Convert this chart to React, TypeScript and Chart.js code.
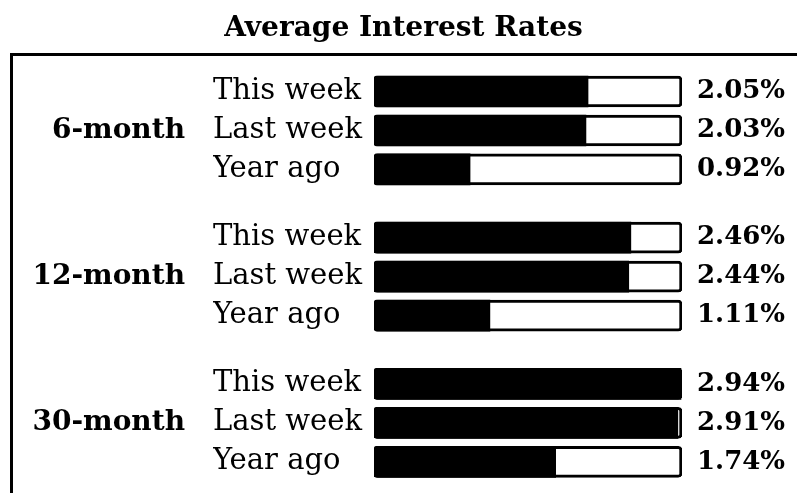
import React, { useEffect, useRef } from "react";
import { Chart, registerables } from "chart.js";

Chart.register(...registerables);

const TITLE = "Average Interest Rates";
const GROUPS = ["6-month", "12-month", "30-month"];
const PERIODS = ["This week", "Last week", "Year ago"];
const RATES_6M = [2.05, 2.03, 0.92];
const RATES_12M = [2.46, 2.44, 1.11];
const RATES_30M = [2.94, 2.91, 1.74];
const SCALE_MAX = 2.95;

const SERIF = "'DejaVu Serif', serif";
const GAP = 0.75;

export default function App() {
  const ref = useRef<HTMLCanvasElement | null>(null);

  useEffect(() => {
    if (!ref.current) return;
    const groups = [RATES_6M, RATES_12M, RATES_30M];
    const rows = groups.flatMap((vals, g) =>
      vals.map((v, r) => ({
        pos: g * (PERIODS.length + GAP) + r,
        value: v,
        period: PERIODS[r],
      }))
    );
    const groupCenters = GROUPS.map((_, g) => g * (PERIODS.length + GAP) + (PERIODS.length - 1) / 2);

    const yMin = -0.9;
    const yMax = 10.3;

    const frame = {
      id: "frame",
      beforeDraw(chart: any) {
        const ctx = chart.ctx;
        ctx.save();
        ctx.fillStyle = "#000";
        ctx.fillRect(10, 53, chart.width - 10, 3);
        ctx.fillRect(10, 53, 3, chart.height - 53);
        ctx.restore();
      },
    };

    const baseY = (width: number, extra: any) => ({
      type: "linear",
      reverse: true,
      min: yMin,
      max: yMax,
      offset: false,
      grid: { display: false, drawTicks: false, offset: false },
      border: { display: false },
      afterFit: (s: any) => {
        s.width = width;
        s.paddingTop = 0;
        s.paddingBottom = 0;
      },
      ...extra,
    });

    const chart = new Chart(ref.current, {
      type: "bar",
      data: {
        datasets: [
          {
            label: "rate",
            data: rows.map((o) => ({ x: o.value, y: o.pos })),
            backgroundColor: "#000",
            borderWidth: 0,
            borderRadius: { topLeft: 3, bottomLeft: 3, topRight: 0, bottomRight: 0 },
            borderSkipped: false,
            barThickness: 31,
            grouped: false,
            order: 1,
            yAxisID: "y",
          },
          {
            label: "track",
            data: rows.map((o) => ({ x: SCALE_MAX, y: o.pos })),
            backgroundColor: "#fff",
            borderColor: "#000",
            borderWidth: 3,
            borderRadius: 4,
            borderSkipped: false,
            barThickness: 31,
            grouped: false,
            order: 2,
            yAxisID: "y",
          },
        ] as any,
      },
      options: {
        indexAxis: "y",
        animation: false,
        responsive: false,
        layout: { padding: { left: 10, right: 0, top: 0, bottom: 0 } },
        plugins: {
          legend: { display: false },
          tooltip: { enabled: false },
          title: {
            display: true,
            text: TITLE,
            color: "#000",
            font: { family: SERIF, size: 28, weight: "bold" },
            padding: { top: 12.2, bottom: 10.6 },
          },
        },
        scales: {
          x: { type: "linear", min: 0, max: SCALE_MAX, display: false },
          y: baseY(161, {
            position: "left",
            weight: 0,
            afterBuildTicks: (s: any) => {
              s.ticks = rows.map((o) => ({ value: o.pos }));
            },
            ticks: {
              autoSkip: false,
              crossAlign: "far",
              padding: 0,
              color: "#000",
              font: { family: SERIF, size: 29 },
              callback: (_v: any, i: number) => rows[i].period,
            },
          }),
          yGroup: baseY(203, {
            position: "left",
            weight: 1,
            afterBuildTicks: (s: any) => {
              s.ticks = groupCenters.map((v) => ({ value: v }));
            },
            ticks: {
              autoSkip: false,
              crossAlign: "near",
              padding: 28,
              color: "#000",
              font: { family: SERIF, size: 28, weight: "bold" },
              callback: (_v: any, i: number) => GROUPS[i],
            },
          }),
          yValue: baseY(115, {
            position: "right",
            afterBuildTicks: (s: any) => {
              s.ticks = rows.map((o) => ({ value: o.pos }));
            },
            ticks: {
              autoSkip: false,
              crossAlign: "near",
              padding: 15,
              color: "#000",
              font: { family: SERIF, size: 26, weight: "bold" },
              callback: (_v: any, i: number) => rows[i].value.toFixed(2) + "%",
            },
          }),
        },
      } as any,
      plugins: [frame],
    });
    return () => chart.destroy();
  }, []);

  return (
    <div style={{ position: "fixed", left: 0, top: 0, width: 797, height: 493, background: "#fff" }}>
      <canvas ref={ref} width={797} height={493} style={{ display: "block" }} />
    </div>
  );
}
